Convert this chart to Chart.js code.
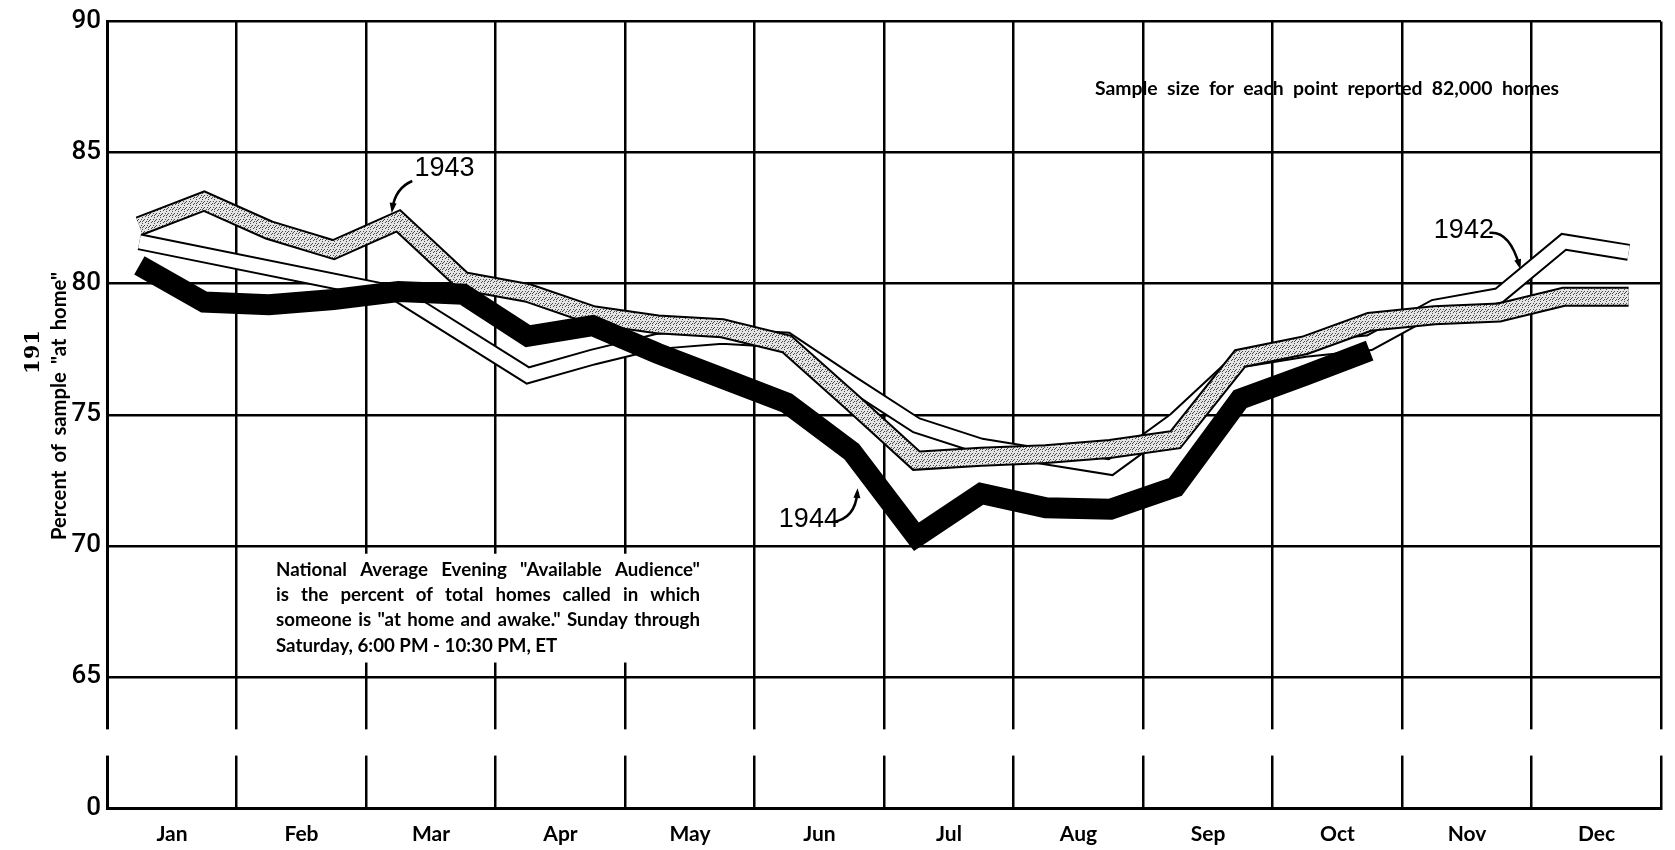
<!DOCTYPE html>
<html>
<head>
<meta charset="utf-8">
<title>Available Audience</title>
<script src="https://cdn.jsdelivr.net/npm/chart.js@4/dist/chart.umd.min.js"></script>
<style>
  html, body { margin: 0; padding: 0; background: #fff; }
  #wrap { width: 1675px; height: 850px; position: relative; }
</style>
</head>
<body>
<div id="wrap"><canvas id="audience"></canvas></div>
<script>
// report dates, in months from Jan 1 (two reports a month)
var reportPoints = [0.25, 0.75, 1.25, 1.75, 2.25, 2.75, 3.25, 3.75, 4.25, 4.75, 5.25, 5.75,
                    6.25, 6.75, 7.25, 7.75, 8.25, 8.75, 9.25, 9.75, 10.25, 10.75, 11.25, 11.75];
var months = ['Jan', 'Feb', 'Mar', 'Apr', 'May', 'Jun', 'Jul', 'Aug', 'Sep', 'Oct', 'Nov', 'Dec'];
var yTickValues = [60, 65, 70, 75, 80, 85, 90];   // 60 is the broken-axis "0"

// percent of sample "at home"
var avail1942 = [81.6, null, null, null, 79.6, null, 76.5, 77.2, 77.8, 78.0, 77.85, 76.2,
                 74.6, 73.8, 73.4, 73.0, 74.8, 77.1, 77.5, 77.75, 79.1, 79.55, 81.6, 81.2];
var avail1943 = [82.2, 83.15, 82.05, 81.3, 82.4, 80.1, 79.65, 78.8, 78.45, 78.3, 77.7, 75.5,
                 73.25, 73.4, 73.5, 73.7, 74.05, 77.15, 77.65, 78.55, 78.8, 78.9, 79.5, 79.5];
var avail1944 = [80.7, 79.3, 79.2, 79.4, 79.7, 79.6, 78.0, 78.4, 77.35, 76.4, 75.45, 73.6,
                 70.35, 72.0, 71.45, 71.4, 72.25, 75.6, 76.5, 77.45, null, null, null, null];

var noteLines = [
  'National Average Evening "Available Audience"',
  'is the percent of total homes called in which',
  'someone is "at home and awake." Sunday through',
  'Saturday, 6:00 PM - 10:30 PM, ET'
];
var sampleNote = 'Sample size for each point reported 82,000 homes';
var yTitle = 'Percent of sample "at home"';

function toPoints(values) {
  return values.map(function (v, i) { return { x: reportPoints[i], y: v }; });
}

// stipple texture for the 1943 band
function stipple() {
  var c = document.createElement('canvas');
  c.width = 6; c.height = 6;
  var g = c.getContext('2d');
  g.fillStyle = '#e4e4e4';
  g.fillRect(0, 0, 6, 6);
  g.fillStyle = '#4a4a4a';
  [[1, 0], [4, 1], [0, 3], [3, 3], [5, 4], [2, 5], [4, 5]].forEach(function (p) {
    g.fillRect(p[0], p[1], 1, 1);
  });
  return g.createPattern(c, 'repeat');
}

var TXT = 'Lato, "DejaVu Sans", sans-serif';

// pick a font size so that text fills about frac of width
function fitFont(ctx, text, width, frac) {
  ctx.font = 'bold 20px ' + TXT;
  var size = 20 * width * frac / ctx.measureText(text).width;
  ctx.font = 'bold ' + size.toFixed(2) + 'px ' + TXT;
  return size;
}

function justify(ctx, text, x, y, width) {
  var words = text.split(' ');
  var total = 0;
  words.forEach(function (w) { total += ctx.measureText(w).width; });
  var gap = (width - total) / (words.length - 1);
  var cx = x;
  words.forEach(function (w) {
    ctx.fillText(w, cx, y);
    cx += ctx.measureText(w).width + gap;
  });
}

var yearLabels = [
  { text: '1943', x: 2.375, y: 84.11, arrow: [[2.357, 83.92], [2.226, 83.65], [2.203, 82.85]] },
  { text: '1944', x: 5.188, y: 70.72, arrow: [[5.602, 70.91], [5.779, 71.03], [5.794, 72.05]] },
  { text: '1942', x: 10.246, y: 81.75, arrow: [[10.675, 81.94], [10.829, 82.02], [10.906, 80.7]] }
];

var extras = {
  id: 'extras',
  beforeDatasetsDraw: function (chart) {
    // white panel behind the definition note
    var ctx = chart.ctx, ys = chart.scales.y;
    var top = ys.getPixelForValue(69.7), bottom = ys.getPixelForValue(65.55);
    ctx.save();
    ctx.fillStyle = '#fff';
    ctx.fillRect(262, top, 450, bottom - top);
    ctx.restore();
  },
  afterDraw: function (chart) {
    var ctx = chart.ctx, xs = chart.scales.x, ys = chart.scales.y;
    var a = chart.chartArea;
    ctx.save();

    // axis break
    var b1 = ys.getPixelForValue(63.0), b2 = ys.getPixelForValue(62.0);
    ctx.fillStyle = '#fff';
    ctx.fillRect(a.left - 4, b1, a.right - a.left + 8, b2 - b1);

    ctx.fillStyle = '#000';
    ctx.strokeStyle = '#000';
    ctx.textAlign = 'left';
    ctx.textBaseline = 'alphabetic';

    // year labels with pointers
    ctx.font = '27px "Liberation Sans Narrow", "Liberation Sans", sans-serif';
    yearLabels.forEach(function (l) {
      ctx.fillText(l.text, xs.getPixelForValue(l.x), ys.getPixelForValue(l.y));
      var p = l.arrow.map(function (q) { return [xs.getPixelForValue(q[0]), ys.getPixelForValue(q[1])]; });
      ctx.lineWidth = 2.5;
      ctx.beginPath();
      ctx.moveTo(p[0][0], p[0][1]);
      ctx.quadraticCurveTo(p[1][0], p[1][1], p[2][0], p[2][1]);
      ctx.stroke();
      var ang = Math.atan2(p[2][1] - p[1][1], p[2][0] - p[1][0]);
      ctx.beginPath();
      ctx.moveTo(p[2][0] + 4 * Math.cos(ang), p[2][1] + 4 * Math.sin(ang));
      ctx.lineTo(p[2][0] - 6 * Math.cos(ang) + 3.5 * Math.sin(ang), p[2][1] - 6 * Math.sin(ang) - 3.5 * Math.cos(ang));
      ctx.lineTo(p[2][0] - 6 * Math.cos(ang) - 3.5 * Math.sin(ang), p[2][1] - 6 * Math.sin(ang) + 3.5 * Math.cos(ang));
      ctx.closePath();
      ctx.fill();
    });

    // sample size note
    fitFont(ctx, sampleNote, 464, 0.93);
    justify(ctx, sampleNote, 1095, 95, 464);

    // definition note
    fitFont(ctx, noteLines[2], 424, 0.97);
    var base = [576, 601, 626, 652];
    noteLines.forEach(function (t, i) {
      if (i < 3) justify(ctx, t, 276, base[i], 424);
      else ctx.fillText(t, 276, base[i]);
    });

    // axis title and page number
    ctx.save();
    ctx.translate(66, 540);
    ctx.rotate(-Math.PI / 2);
    fitFont(ctx, yTitle, 268, 0.95);
    justify(ctx, yTitle, 0, 0, 268);
    ctx.restore();

    ctx.save();
    ctx.translate(39, 352);
    ctx.rotate(-Math.PI / 2);
    ctx.textAlign = 'center';
    ctx.font = 'bold 21px "DejaVu Serif", "Liberation Serif", serif';
    ctx.fillText('191', 0, 0);
    ctx.restore();

    ctx.restore();
  }
};

var dots = stipple();

new Chart(document.getElementById('audience'), {
  type: 'line',
  data: {
    datasets: [
      { label: '1944', data: toPoints(avail1944), borderColor: '#000', borderWidth: 21, order: 0 },
      { label: '1943', data: toPoints(avail1943), borderColor: dots, borderWidth: 16, order: 1 },
      { label: '1943 edge', data: toPoints(avail1943), borderColor: '#000', borderWidth: 20, order: 2 },
      { label: '1942', data: toPoints(avail1942), borderColor: '#fff', borderWidth: 13, order: 3, spanGaps: true },
      { label: '1942 edge', data: toPoints(avail1942), borderColor: '#000', borderWidth: 17, order: 4, spanGaps: true }
    ]
  },
  options: {
    responsive: true,
    maintainAspectRatio: false,
    animation: false,
    devicePixelRatio: 1,
    layout: { padding: { top: 21, right: 4, left: 0, bottom: 0 } },
    elements: {
      point: { radius: 0, hoverRadius: 0 },
      line: { tension: 0, borderJoinStyle: 'miter', borderCapStyle: 'butt', fill: false }
    },
    plugins: { legend: { display: false }, tooltip: { enabled: false } },
    scales: {
      x: {
        type: 'linear',
        min: 0,
        max: 12,
        afterFit: function (s) { s.height = 42; },
        afterBuildTicks: function (s) {
          s.ticks = months.map(function (m, i) { return { value: i }; }).concat([{ value: 12 }]);
        },
        grid: { color: '#000', lineWidth: 2.5, drawTicks: false },
        border: { color: '#000', width: 3 },
        ticks: {
          autoSkip: false,
          maxRotation: 0,
          padding: 14,
          labelOffset: 65,
          color: '#000',
          font: { family: TXT, size: 21, weight: 'bold' },
          callback: function (v) { return months[v] || ''; }
        }
      },
      y: {
        min: 60,
        max: 90,
        afterFit: function (s) { s.width = 107; },
        afterBuildTicks: function (s) {
          s.ticks = yTickValues.map(function (v) { return { value: v }; });
        },
        grid: { color: '#000', lineWidth: 2.5, drawTicks: false },
        border: { color: '#000', width: 3 },
        ticks: {
          padding: 6,
          color: '#000',
          font: { family: 'Roboto, "Liberation Sans", sans-serif', size: 26, weight: '500' },
          callback: function (v) { return v === 60 ? '0' : String(v); }
        }
      }
    }
  },
  plugins: [extras]
});
</script>
</body>
</html>
